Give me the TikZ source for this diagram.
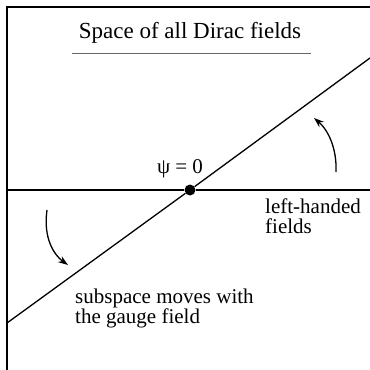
\documentclass[tikz,border=0pt]{standalone}
\usepackage{fontspec}
\setmainfont{Liberation Serif}
\usetikzlibrary{arrows.meta, positioning}
\tikzset{
  frameline/.style={line width=1.6pt},
  fieldline/.style={line width=1.3pt},
  rule/.style={line width=0.9pt, color=black!60},
  tag/.style={font=\fontsize{21}{20}\selectfont, align=left, inner sep=0pt},
  zero/.style={circle, fill=black, inner sep=0pt, minimum size=11pt},
  gaugearrow/.style={-{Stealth[length=10pt, width=7pt]}, line width=1.3pt},
}
\begin{document}
\begin{tikzpicture}[x=1pt, y=-1pt]
  \useasboundingbox (0,0) rectangle (370,370);
  % frame of the field space
  \coordinate (fbl) at (7,370);
  \coordinate (ftl) at (7,7);
  \coordinate (ftr) at (370,7);
  \draw[frameline] (fbl) -- (ftl) -- (ftr);
  \node[tag, font=\fontsize{23}{24}\selectfont, anchor=base] (title) at (190,38) {Space of all Dirac fields};
  \coordinate (ul) at (72,53);
  \coordinate (ur) at (311,53);
  \draw[rule] (ul) -- (ur);
  % the two subspaces
  \node[zero] (origin) at (190,190) {};
  \coordinate (hl) at (7,190);
  \coordinate (hr) at (370,190);
  \coordinate (dl) at (7,323);
  \coordinate (dr) at (370,58);
  \draw[fieldline] (hl) -- (origin) -- (hr);
  \draw[fieldline] (dl) -- (origin) -- (dr);
  \node[tag, anchor=base] (psi) at (180,173) {ψ = 0};
  \node[tag, anchor=base west] (left) at (265,233) {left-handed\\fields};
  \node[tag, anchor=base west] (moves) at (75,323) {subspace moves with\\the gauge field};
  % rotation arrows
  \coordinate (a1s) at (47,210);
  \coordinate (a1e) at (68,265);
  \coordinate (a2s) at (336,172);
  \coordinate (a2e) at (314,118);
  \draw[gaugearrow] (a1s) .. controls (43,238) and (54,255) .. (a1e);
  \draw[gaugearrow] (a2s) .. controls (337,148) and (328,130) .. (a2e);
\end{tikzpicture}
\end{document}
